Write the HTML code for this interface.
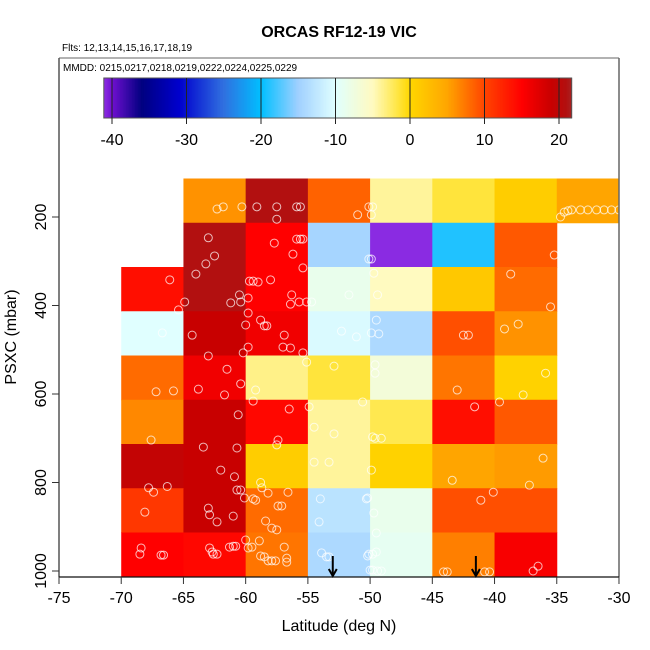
<!DOCTYPE html>
<html><head><meta charset="utf-8"><style>
html,body{margin:0;padding:0;background:#fff;}
svg{display:block;font-family:"Liberation Sans",Arial,sans-serif;}
</style></head><body>
<svg id="chart" width="650" height="650" viewBox="0 0 650 650">
<text x="339" y="37" text-anchor="middle" font-size="16" font-weight="bold">ORCAS RF12-19 VIC</text>
<text x="62" y="51" font-size="10">Flts: 12,13,14,15,16,17,18,19</text>
<text x="63" y="71" font-size="10">MMDD: 0215,0217,0218,0219,0222,0224,0225,0229</text>
<g id="colorbar"></g>
<g id="cells"></g>
<g id="points"></g>
<g id="arrows"></g>
<g id="axes"></g>
<text x="339" y="631" text-anchor="middle" font-size="16">Latitude (deg N)</text>
<text transform="translate(16,337) rotate(-90)" text-anchor="middle" font-size="16">PSXC (mbar)</text>
</svg>
<script>
const colLats = [-70,-65,-60,-55,-50,-45,-40,-35];
const rowTops = [113,213,313,413,513,613,713,813,913];
const row0 = [null,6,21,8.5,-4,-1.5,1,5];
const row1 = [null,21,15,-14.5,-41,-19,9,null];
const row2 = [14,21,15,-8.5,-5,1.5,8,null];
const row3 = [-10,19,16,-10.5,-14,9.5,6,null];
const row4 = [8,16,-3.5,-1.5,-7,7.5,0.5,null];
const row5 = [6.5,19,14.5,-4,-2,14,9,null];
const row6 = [19.5,19,1,-4,0.5,5,5.5,null];
const row7 = [11,19,8,-13,-8.5,9.5,9.5,null];
const row8 = [15,14.5,7.5,-14,-9,7,15.5,null];
const xTicks = [-75,-70,-65,-60,-55,-50,-45,-40,-35,-30];
const yTicks = [200,400,600,800,1000];
const cbTicks = [-40,-30,-20,-10,0,10,20];
const arrowLats = [-53,-41.5];
const ptLat = [-62.3,-61.8,-60.3,-59.1,-57.5,-55.9,-55.6,-57.5,-51.0,-50.1,-63.0,-57.7,-55.9,-55.6,-55.4,-56.2,-62.5,-63.2,-64.0,-55.4,-50.1,
-66.1,-59.7,-59.4,-59.0,-58.0,-51.7,-60.5,-59.8,-56.3,-64.9,-61.2,-60.4,-56.4,-55.7,-55.1,-54.7,-65.4,
-59.8,-66.7,-64.3,-60.0,-58.8,-58.5,-58.3,-56.9,-52.3,-51.1,-59.8,-60.2,-57.0,-56.4,-55.4,-63.0,-55.1,-52.9,-61.5,
-60.4,-63.8,-61.7,-67.2,-65.8,-59.2,-59.4,-56.5,-54.9,-60.6,-54.5,-52.9,-57.4,-57.5,-67.6,-63.4,-60.7,-54.5,-53.3,
-62.0,-60.9,-66.3,-67.8,-67.4,-58.8,-58.7,-60.7,-60.4,-58.2,-56.6,-60.1,-59.4,-59.2,-54.0,-50.3,-63.0,-62.9,-61.0,-62.3,
-68.1,-57.4,-57.1,-58.4,-57.9,-57.5,-54.1,-60.0,-58.9,-68.4,-68.5,-66.8,-66.6,-62.9,-62.7,-62.6,-62.3,-61.3,-61.0,-60.8,
-59.8,-59.5,-56.9,-58.8,-58.5,-58.2,-57.9,-57.6,-56.7,-56.7,-53.9,-53.5,-53.3,-50.2,-50.0,
-49.8,-49.9,-34.7,-34.4,-34.1,-33.8,-33.1,-32.5,-31.8,-31.2,-30.6,-30.0,-49.9,-35.2,-49.7,-38.7,-49.4,-35.5,-49.5,-49.9,-49.3,-42.5,-42.1,-39.2,-38.1,
-49.6,-49.6,-35.9,-43.0,-37.7,-39.6,-50.6,-41.6,-49.8,-49.6,-49.1,-49.9,-36.1,-43.4,-37.2,-40.1,-41.1,-50.2,-49.7,-49.5,-49.5,-50.1,-49.8,
-49.8,-49.4,-49.1,-44.1,-43.8,-40.8,-40.4,-36.9,-36.5];
const ptP = [182,177,177,177,177,177,177,205,195,177,247,259,250,250,250,284,288,306,329,315,295,
342,345,345,347,342,376,376,383,376,392,394,392,397,392,392,392,410,
417,462,467,444,433,446,446,467,458,471,494,507,494,496,507,514,528,537,544,
577,589,602,595,593,591,616,634,629,647,675,690,704,715,704,720,722,754,754,
772,787,809,812,822,800,812,817,817,824,822,835,837,840,837,837,858,873,876,889,
867,853,853,887,903,907,889,930,932,948,962,964,964,948,957,962,962,946,944,944,
948,946,946,966,968,977,977,977,971,980,959,968,968,966,998,
177,195,200,189,186,184,184,184,184,184,184,184,295,286,327,329,376,403,433,462,464,467,467,453,442,
534,553,553,591,602,618,618,629,697,700,700,772,745,795,806,822,840,835,869,914,957,962,962,
998,1000,1000,1002,1002,1002,1002,1000,989];

const NS='http://www.w3.org/2000/svg';
const xS = lat => 59 + (lat + 75) * 12.444;
const yS = p => 217 + (p - 200) * 0.4425;
const cS = v => 112 + (v + 40) * 7.45;
const stops = [[-41,[138,43,226]],[-40,[112,16,208]],[-36,[0,0,128]],[-31,[0,0,205]],[-25,[48,112,224]],[-20,[0,191,255]],[-15,[160,208,255]],[-10,[224,255,255]],[-5,[255,250,192]],[-2,[255,232,80]],[0,[255,215,0]],[5,[255,165,0]],[10,[255,69,0]],[15,[255,0,0]],[19,[200,0,0]],[21,[178,16,16]],[22,[165,42,42]]];
function col(v){
  if(v<=stops[0][0]) return 'rgb('+stops[0][1]+')';
  for(let i=1;i<stops.length;i++){
    if(v<=stops[i][0]){const a=stops[i-1],b=stops[i];const t=(v-a[0])/(b[0]-a[0]);
      return 'rgb('+a[1].map((c,k)=>Math.round(c+(b[1][k]-c)*t)).join(',')+')';}
  }
  return 'rgb('+stops[stops.length-1][1]+')';
}
function mk(tag,attrs,parent){const e=document.createElementNS(NS,tag);for(const k in attrs)e.setAttribute(k,attrs[k]);parent.appendChild(e);return e;}

const cb=document.getElementById('colorbar');
for(let v=-41.1;v<21.7;v+=0.2){
  const r=mk('rect',{x:cS(v),y:78,width:7.45*0.2+0.4,height:40,fill:col(v+0.1)},cb);
  
  
}
const cbo=mk('rect',{x:cS(-41.1),y:78,width:cS(21.7)-cS(-41.1),height:40,fill:'none',stroke:'#555','stroke-width':1},cb);


cbTicks.forEach(t=>{
  const l=mk('line',{x1:cS(t),x2:cS(t),y1:78,y2:124,stroke:'#222','stroke-width':1},cb);
  
  
  const tx=mk('text',{x:cS(t),y:145,'text-anchor':'middle','font-size':16},cb);
  tx.textContent=t;
  
  
});

const rows=[row0,row1,row2,row3,row4,row5,row6,row7,row8];
const cg=document.getElementById('cells');
rows.forEach((row,ri)=>{
  row.forEach((v,ci)=>{
    if(v===null) return;
    const x0=xS(colLats[ci]),x1=xS(colLats[ci]+5),y0=yS(rowTops[ri]),y1=yS(rowTops[ri]+100);
    const r=mk('rect',{x:x0,y:y0,width:x1-x0+0.5,height:y1-y0+0.5,fill:col(v)},cg);
    
    
  });
});

const pg=document.getElementById('points');
ptLat.forEach((lat,i)=>{
  const c=mk('circle',{cx:xS(lat),cy:yS(ptP[i]),r:4,fill:'none',stroke:'rgba(255,255,255,0.72)','stroke-width':1},pg);
  
  
});

const ag=document.getElementById('arrows');
arrowLats.forEach(lat=>{
  const x=xS(lat);
  const g=mk('g',{},ag);
  
  
  mk('line',{x1:x,x2:x,y1:556,y2:576,stroke:'#000','stroke-width':2},g);
  mk('path',{d:`M${x-4},${569} L${x},${576} L${x+4},${569}`,fill:'none',stroke:'#000','stroke-width':2},g);
});

const ax=document.getElementById('axes');
mk('line',{x1:59,x2:619,y1:58,y2:58,stroke:'#666','stroke-width':1},ax);
mk('line',{x1:619,x2:619,y1:58,y2:577,stroke:'#666','stroke-width':1.5},ax);
mk('line',{x1:59,x2:59,y1:58,y2:577,stroke:'#555','stroke-width':1.5},ax);
mk('line',{x1:59,x2:619,y1:577,y2:577,stroke:'#111','stroke-width':1.2},ax);
xTicks.forEach(t=>{
  const x=xS(t);
  const l=mk('line',{x1:x,x2:x,y1:577,y2:584,stroke:'#333','stroke-width':1},ax);
  
  
  const tx=mk('text',{x:x,y:603,'text-anchor':'middle','font-size':16},ax);
  tx.textContent=t;
  
  
});
yTicks.forEach(t=>{
  const y=yS(t);
  const l=mk('line',{x1:52,x2:59,y1:y,y2:y,stroke:'#333','stroke-width':1},ax);
  
  
  const tx=mk('text',{transform:`translate(46,${y}) rotate(-90)`,'text-anchor':'middle','font-size':16},ax);
  tx.textContent=t;
  
  
});
</script>
</body></html>
